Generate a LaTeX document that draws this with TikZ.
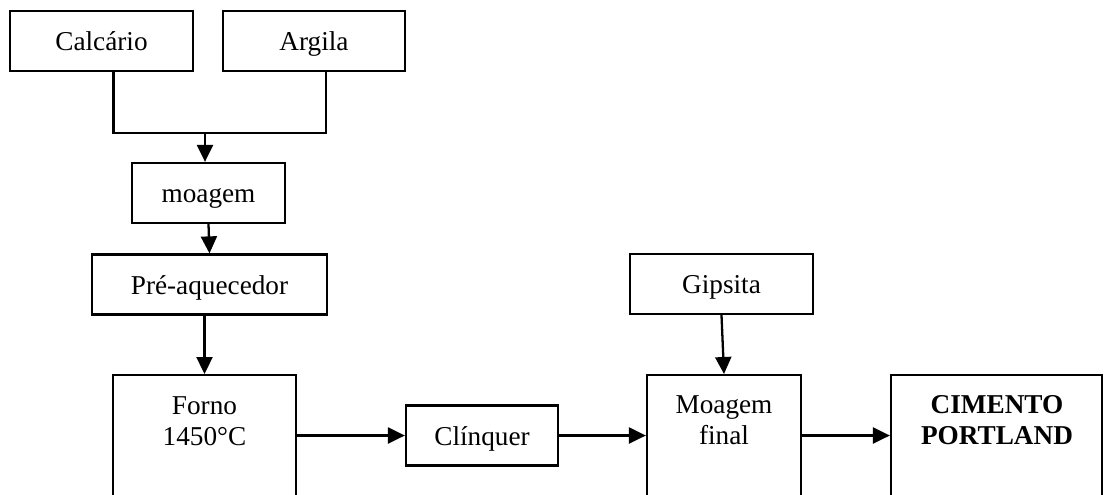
\documentclass[tikz,border=0pt]{standalone}
\usepackage{fontspec}
\setmainfont{Liberation Serif}
\usetikzlibrary{arrows.meta}
\tikzset{
  box/.style={draw, line width=1.3pt, minimum height=1.2cm, inner sep=0pt,
    text height=11pt, text depth=0pt, font=\fontsize{15.5}{17.8}\selectfont},
  tallbox/.style={draw, line width=1.3pt, anchor=north, minimum height=3cm, inner sep=0pt},
  txt/.style={align=center, inner sep=0pt, font=\fontsize{15.5}{17.8}\selectfont},
  link/.style={line width=1.3pt},
  flow/.style={link, -{Triangle[length=0.34cm,width=0.32cm]}},
}
\begin{document}
\begin{tikzpicture}[x=0.02cm, y=-0.02cm]
  \useasboundingbox (0,0) rectangle (1105,494);
  \clip (0,0) rectangle (1105,494);
  \draw
    (101.5,41) node[box, minimum width=3.66cm] (calc) {Calcário}
    (314,41) node[box, minimum width=3.64cm] (argila) {Argila}
    (208.5,193) node[box, minimum width=3.06cm] (moagem) {moagem}
    (209.5,284.5) node[box, minimum width=4.7cm] (preaq) {Pré-aquecedor}
    (204.5,374) node[tallbox, minimum width=3.66cm] (forno) {}
    (482,435.5) node[box, minimum width=3.04cm] (clinquer) {Clínquer}
    (721.5,284) node[box, minimum width=3.66cm] (gipsita) {Gipsita}
    (724,374) node[tallbox, minimum width=3.08cm] (mfinal) {}
    (996.5,374) node[tallbox, minimum width=4.22cm] (cimento) {};
  \node[txt] (fornotxt) at (204.5,421.5) {Forno\\1450°C};
  \node[txt] (mfinaltxt) at (724,420) {Moagem\\final};
  \node[txt, font=\fontsize{15.5}{17.8}\selectfont\bfseries] (cimentotxt) at (997,420) {CIMENTO\\PORTLAND};
  \begin{scope}[-]
    \coordinate (join) at (205,133);
    \draw[link] ([xshift=0.24cm]calc.south) |- (join) -| ([xshift=0.24cm]argila.south);
    \draw[flow] (join) -- (join |- moagem.north);
    \draw[flow] (moagem.south) -- (preaq.north);
    \draw[flow] (forno.north |- preaq.south) -- (forno.north);
    \draw[flow] (forno.east |- clinquer.west) -- (clinquer.west);
    \draw[flow] (clinquer.east) -- (mfinal.west |- clinquer.east);
    \draw[flow] (gipsita.south) -- (mfinal.north);
    \draw[flow] (mfinal.east |- clinquer.east) -- (cimento.west |- clinquer.east);
  \end{scope}
\end{tikzpicture}
\end{document}
